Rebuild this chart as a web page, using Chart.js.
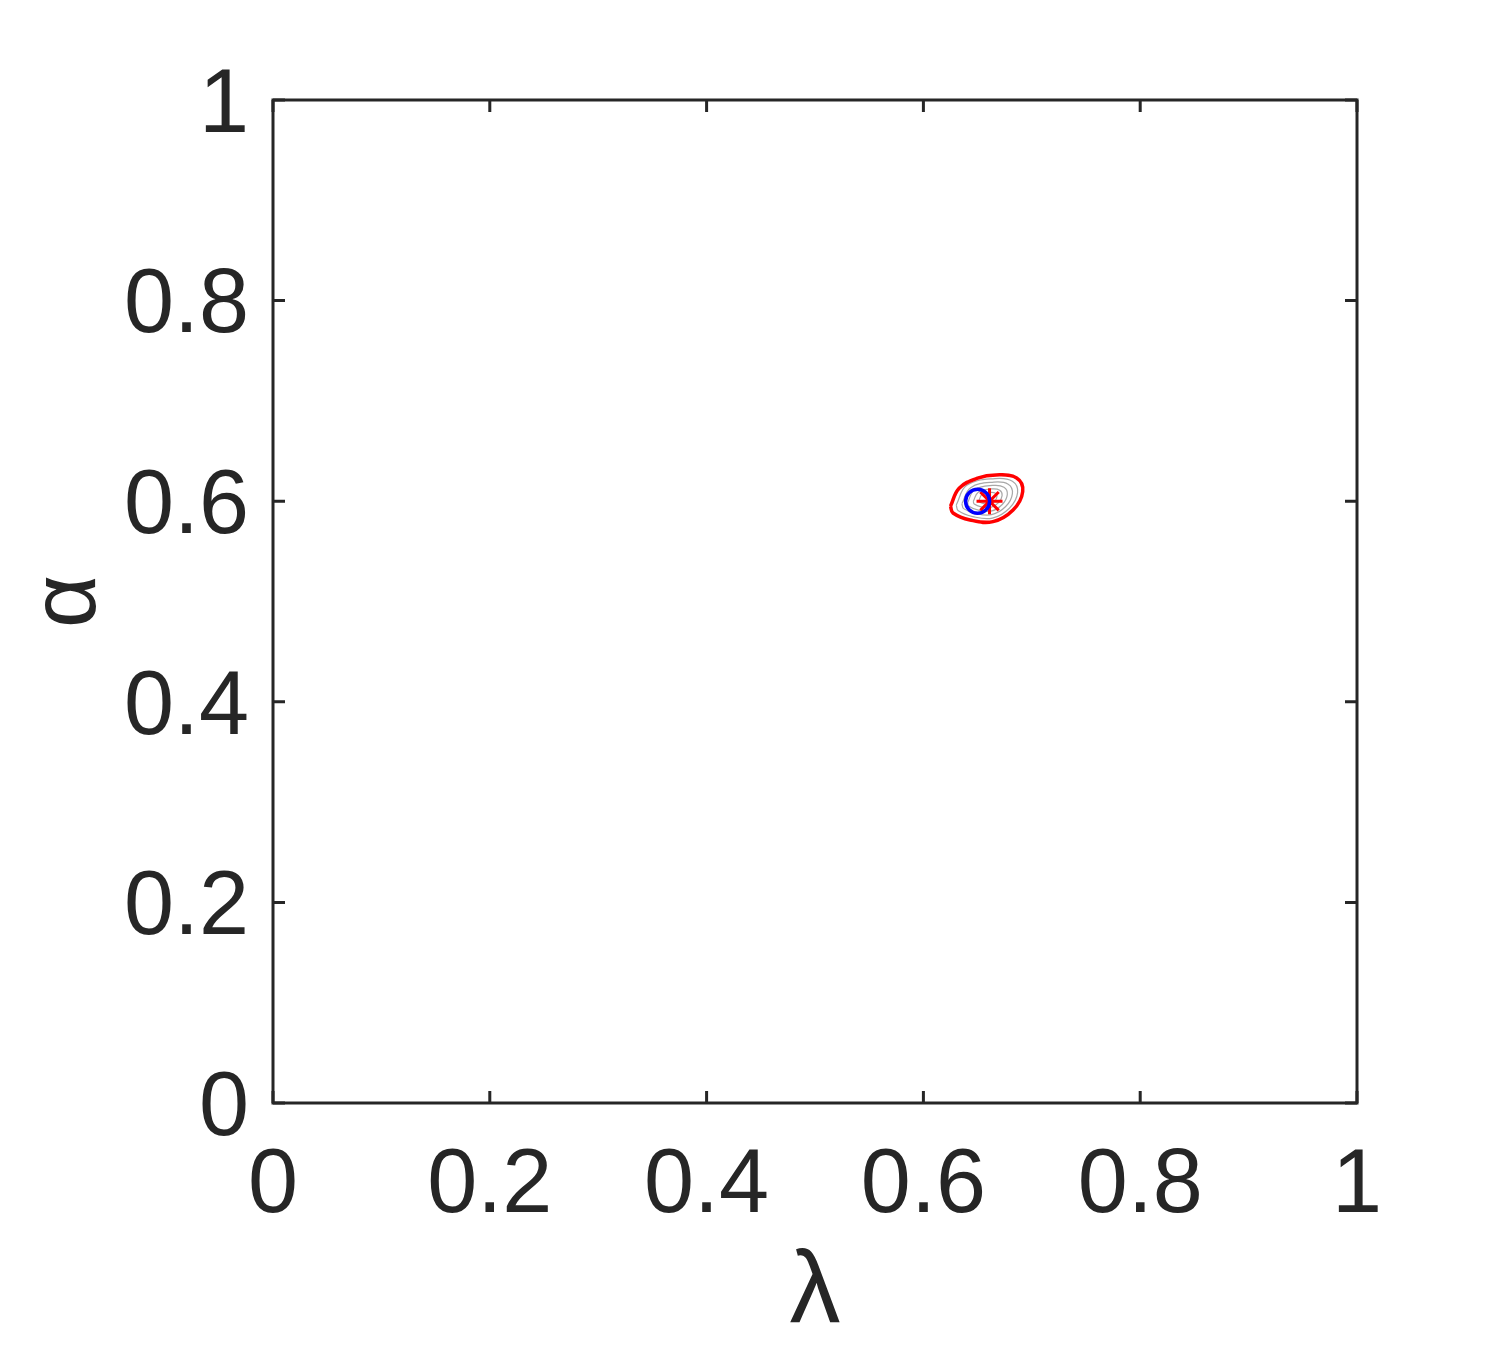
<!DOCTYPE html>
<html>
<head>
<meta charset="utf-8">
<script src="https://cdn.jsdelivr.net/npm/chart.js@4.4.1/dist/chart.umd.min.js"></script>
<style>
html,body{margin:0;padding:0;background:#fff;}
#wrap{width:1500px;height:1350px;}
</style>
</head>
<body>
<div id="wrap"><canvas id="c" width="1500" height="1350"></canvas></div>
<script>
// Axis ticks
const xTicks = [0, 0.2, 0.4, 0.6, 0.8, 1];
const yTicks = [0, 0.2, 0.4, 0.6, 0.8, 1];
const xTitle = 'λ';
const yTitle = 'α';

// Outer (red) contour of the likelihood region
const redContour = [
  {x:0.6250,y:0.5950},{x:0.6330,y:0.6130},{x:0.6500,y:0.6230},{x:0.6670,y:0.6262},{x:0.6860,y:0.6232},
  {x:0.6916,y:0.6096},{x:0.6827,y:0.5912},{x:0.6642,y:0.5796},{x:0.6430,y:0.5813},
  {x:0.6273,y:0.5882},{x:0.6250,y:0.5950}
];
// Inner (gray) contours
const grayContour1 = [
  {x:0.6303,y:0.5962},{x:0.6400,y:0.6158},{x:0.6660,y:0.6226},{x:0.6821,y:0.6200},
  {x:0.6869,y:0.6086},{x:0.6793,y:0.5930},{x:0.6636,y:0.5831},{x:0.6456,y:0.5846},
  {x:0.6322,y:0.5904},{x:0.6303,y:0.5962}
];
const grayContour2 = [
  {x:0.6355,y:0.5974},{x:0.6436,y:0.6135},{x:0.6649,y:0.6191},{x:0.6782,y:0.6170},
  {x:0.6821,y:0.6076},{x:0.6759,y:0.5947},{x:0.6629,y:0.5866},{x:0.6481,y:0.5878},
  {x:0.6371,y:0.5926},{x:0.6355,y:0.5974}
];
const grayContour3 = [
  {x:0.6408,y:0.5986},{x:0.6471,y:0.6113},{x:0.6639,y:0.6157},{x:0.6743,y:0.6140},
  {x:0.6774,y:0.6066},{x:0.6725,y:0.5965},{x:0.6623,y:0.5901},{x:0.6507,y:0.5911},
  {x:0.6420,y:0.5949},{x:0.6408,y:0.5986}
];
const grayContour4 = [
  {x:0.6460,y:0.5998},{x:0.6506,y:0.6090},{x:0.6628,y:0.6122},{x:0.6704,y:0.6110},
  {x:0.6726,y:0.6056},{x:0.6691,y:0.5983},{x:0.6617,y:0.5936},{x:0.6532,y:0.5943},
  {x:0.6469,y:0.5971},{x:0.6460,y:0.5998}
];
const grayContour5 = [
  {x:0.6513,y:0.6010},{x:0.6541,y:0.6068},{x:0.6618,y:0.6088},{x:0.6665,y:0.6080},
  {x:0.6679,y:0.6047},{x:0.6657,y:0.6000},{x:0.6610,y:0.5972},{x:0.6558,y:0.5976},
  {x:0.6518,y:0.5993},{x:0.6513,y:0.6010}
];
// True value (blue circle) and estimate (red asterisk)
const truePoint = [{x:0.650, y:0.600}];
const estPoint = [{x:0.661, y:0.600}];

const AX = '#262626';
const FONT = "'Liberation Sans', Arial, Helvetica, sans-serif";

function contourDS(data, color, width, order) {
  return {type:'line', data, borderColor:color, borderWidth:width, pointRadius:0,
    tension:0.4, fill:false, showLine:true, order};
}

const boxPlugin = {
  id:'box',
  afterDatasetsDraw(chart) {
    const {ctx, chartArea:a, scales} = chart;
    const tl = 12;
    ctx.save();
    ctx.strokeStyle = AX;
    ctx.lineWidth = 3;
    ctx.lineCap = 'butt';
    ctx.beginPath();
    xTicks.forEach(v => {
      const px = scales.x.getPixelForValue(v);
      ctx.moveTo(px, a.bottom); ctx.lineTo(px, a.bottom - tl);
      ctx.moveTo(px, a.top); ctx.lineTo(px, a.top + tl);
    });
    yTicks.forEach(v => {
      const py = scales.y.getPixelForValue(v);
      ctx.moveTo(a.left, py); ctx.lineTo(a.left + tl, py);
      ctx.moveTo(a.right, py); ctx.lineTo(a.right - tl, py);
    });
    ctx.stroke();
    ctx.strokeRect(a.left, a.top, a.right - a.left, a.bottom - a.top);
    ctx.restore();
  }
};

new Chart(document.getElementById('c'), {
  type:'scatter',
  data:{datasets:[
    contourDS(grayContour5, '#a8a8a8', 1.2, 8),
    contourDS(grayContour4, '#a8a8a8', 1.2, 7),
    contourDS(grayContour3, '#a8a8a8', 1.2, 6),
    contourDS(grayContour2, '#a8a8a8', 1.2, 5),
    contourDS(grayContour1, '#a8a8a8', 1.2, 4),
    contourDS(redContour, '#ff0000', 3.5, 3),
    {type:'scatter', data:estPoint, pointStyle:'star', pointRadius:13, order:2,
      borderColor:'#ff0000', backgroundColor:'#ff0000', borderWidth:3},
    {type:'scatter', data:truePoint, pointStyle:'circle', pointRadius:12, order:1,
      borderColor:'#0000ff', backgroundColor:'rgba(0,0,0,0)', borderWidth:3.5}
  ]},
  options:{
    responsive:false, animation:false, devicePixelRatio:1,
    layout:{padding:{top:100, right:143, left:0, bottom:0}},
    plugins:{legend:{display:false}, tooltip:{enabled:false}},
    scales:{
      x:{type:'linear', min:0, max:1,
        afterFit(s){ s.height = 247; },
        afterBuildTicks(s){ s.ticks = xTicks.map(v=>({value:v})); },
        grid:{display:false, drawTicks:false},
        border:{display:false},
        ticks:{color:AX, padding:30, maxRotation:0, font:{family:FONT, size:90},
          callback:v=>String(v)},
        title:{display:true, text:xTitle, color:AX, font:{family:FONT, size:102, lineHeight:1}, padding:{top:0,bottom:5}}
      },
      y:{type:'linear', min:0, max:1,
        afterFit(s){ s.width = 273; },
        afterBuildTicks(s){ s.ticks = yTicks.map(v=>({value:v})); },
        grid:{display:false, drawTicks:false},
        border:{display:false},
        ticks:{color:AX, padding:24, labelOffset:7, font:{family:FONT, size:90}, callback:v=>String(v)},
        title:{display:true, text:yTitle, color:AX, font:{family:FONT, size:92, lineHeight:1}, padding:{top:24,bottom:0}}
      }
    }
  },
  plugins:[boxPlugin]
});
</script>
</body>
</html>
